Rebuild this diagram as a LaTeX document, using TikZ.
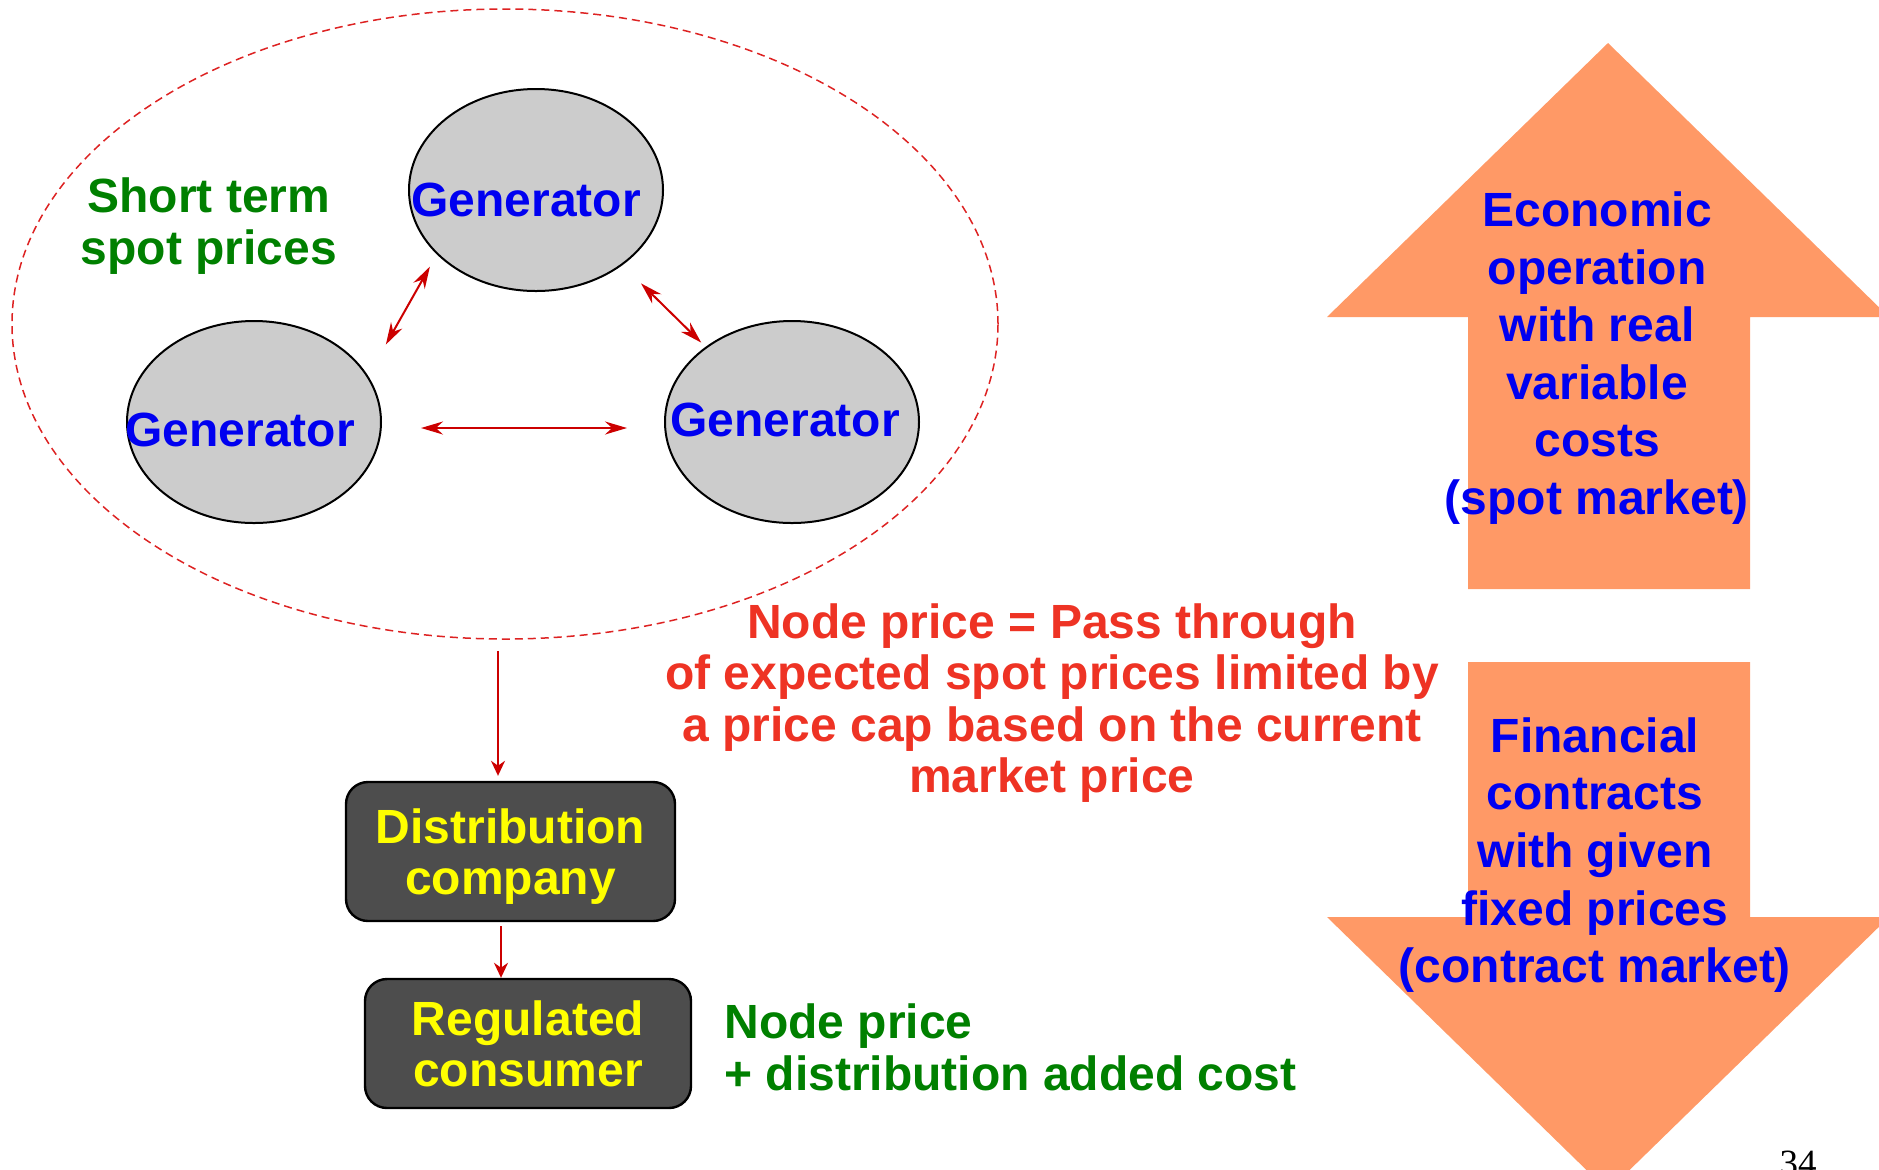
\documentclass[tikz,border=0pt]{standalone}
\usepackage{fontspec}
\setmainfont{Liberation Sans}
\newfontfamily\pagefont{Liberation Serif}
\usetikzlibrary{shapes.geometric}
\usetikzlibrary{arrows.meta}
\definecolor{genfill}{RGB}{204,204,204}
\definecolor{genblue}{RGB}{0,0,240}
\definecolor{boxgray}{RGB}{77,77,77}
\definecolor{boxyellow}{RGB}{255,255,0}
\definecolor{dashred}{RGB}{221,34,34}
\definecolor{arrowred}{RGB}{204,0,0}
\definecolor{rulered}{RGB}{238,51,36}
\definecolor{spotgreen}{RGB}{0,128,0}
\definecolor{bigarrow}{RGB}{255,153,102}
\newcommand{\bigtext}[1]{\fontsize{24}{#1}\selectfont\bfseries}

\begin{document}
\begin{tikzpicture}[x=0.5pt,y=-0.5pt,
		gen/.style={ellipse,draw,line width=1pt,fill=genfill,minimum width=127pt,minimum height=101pt,inner sep=0pt},
		gentext/.style={inner sep=0pt,text=genblue,font=\bigtext{28}},
		company/.style={draw,rounded corners=11pt,line width=1.2pt,fill=boxgray,text=boxyellow,align=center,inner sep=0pt,font=\bigtext{25.5}},
		link/.style={draw=arrowred,line width=1pt,>={Stealth[length=11pt,width=6.5pt]},<->},
		flow/.style={draw=arrowred,line width=1pt,>={Stealth[length=7.5pt,width=7pt]},->}]
		% Page area
		\clip (0,0) rectangle (1879,1169);
		% Spot and contract market arrows
		\fill[bigarrow] (1608,43) -- (1889,317) -- (1750,317) -- (1750,589) -- (1468,589) -- (1468,317) -- (1327,317) -- cycle;
		\fill[bigarrow] (1468,662) -- (1750,662) -- (1750,917) -- (1889,917) -- (1608,1191) -- (1327,917) -- (1468,917) -- cycle;
		\node[text=genblue,align=center,font=\bigtext{28.8}] (spotmkt) at (1597,358) {Economic\\operation\\with real\\variable\\costs\\(spot market)};
		\node[text=genblue,align=center,font=\bigtext{28.8}] (contractmkt) at (1595,855) {Financial\\contracts\\with given\\fixed prices\\(contract market)};
		% Generators in the spot market
		\node[ellipse,draw=dashred,line width=0.75pt,dash pattern=on 4pt off 2.5pt,minimum width=493pt,minimum height=315pt] (market) at (505,324) {};
		\node[gen,label={[gentext,xshift=-5pt,yshift=-5pt]center:Generator}] (gt) at (536,190) {};
		\node[gen,label={[gentext,xshift=-7pt,yshift=-4pt]center:Generator}] (gl) at (254,422) {};
		\node[gen,label={[gentext,xshift=-3.5pt,yshift=1pt]center:Generator}] (gr) at (792,422) {};
		\node[text=spotgreen,align=center,font=\bigtext{26}] (spot) at (209,226) {Short term\\spot prices};
		% Trading between generators
		\draw[link,shorten <=18pt,shorten >=7pt] (gl.22) -- (gt.213);
		\draw[link,shorten <=13pt,shorten >=3pt] (gt.319) -- (gr.139);
		\draw[link,shorten <=19.5pt,shorten >=18.5pt] ([yshift=-3pt]gl.east) -- ([yshift=-3pt]gr.west);
		% Distribution chain
		\node[company,minimum width=164.5pt,minimum height=69.5pt,text depth=0pt] (dist) at (510.5,851.5) {Distribution\\company};
		\node[company,minimum width=163pt,minimum height=64.5pt] (cons) at (528,1043.5) {Regulated\\consumer};
		\draw[flow,shorten <=5.5pt,shorten >=2.5pt] ([xshift=-3.5pt]market.south) -- ([xshift=-3.5pt]market.south |- dist.north);
		\draw[flow,shorten <=2pt] ([xshift=-4.75pt]dist.south) -- ([xshift=-4.75pt]dist.south |- cons.north);
		% Prices
		\node[text=rulered,align=center,font=\bigtext{25.65}] (rule) at (1052,703) {Node price = Pass through\\of expected spot prices limited by\\a price cap based on the current\\market price};
		\node[text=spotgreen,align=left,anchor=west,inner sep=0pt,font=\bigtext{26}] (tariff) at (724,1047) {Node price\\+ distribution added cost};
		\node[anchor=base,inner sep=0pt,font=\pagefont\fontsize{18.5}{20}\selectfont] (page) at (1798,1175) {34};
	\end{tikzpicture}
\end{document}
